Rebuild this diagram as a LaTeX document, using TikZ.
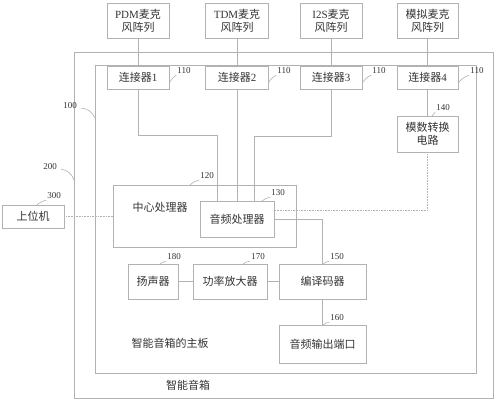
\documentclass[tikz,border=0pt]{standalone}
\usepackage{fontspec}
\setmainfont{Liberation Serif}
\newfontfamily\cjk{Noto Sans CJK SC}
\usetikzlibrary{positioning,calc}

\tikzset{
    box/.style={draw=gray!60, line width=0.6pt, text=black!80, font=\cjk\fontsize{11}{13}\selectfont, align=center, inner sep=0pt},
    wire/.style={draw=gray!60, line width=0.6pt},
    num/.style={text=black!80, font=\fontsize{9}{10}\selectfont, inner sep=1pt},
    tick/.style={draw=gray!70, line width=0.5pt}
}

\begin{document}
\begin{tikzpicture}[x=1pt, y=-1pt]
    \useasboundingbox (0,0) rectangle (496,400);

    % housing and main board
    \draw[wire] (74,52) rectangle (493,398);
    \draw[wire] (95,65) rectangle (476,373);
    \node[box, draw=none] (lblspk) at (188,385) {智能音箱};
    \node[box, draw=none] (lblbrd) at (170,343) {智能音箱的主板};

    % microphone arrays
    \node[box, minimum width=62pt, minimum height=35pt] (pdm) at (138,20.5) {{\rmfamily PDM}麦克\\风阵列};
    \node[box, minimum width=63pt, minimum height=35pt] (tdm) at (237,20.5) {{\rmfamily TDM}麦克\\风阵列};
    \node[box, minimum width=62pt, minimum height=35pt] (i2s) at (331,20.5) {{\rmfamily I2S}麦克\\风阵列};
    \node[box, minimum width=61pt, minimum height=35pt] (ana) at (427.5,20.5) {模拟麦克\\风阵列};

    % connectors
    \node[box, minimum width=62pt, minimum height=23pt] (con1) at (138,77.5) {连接器{\rmfamily 1}};
    \node[box, minimum width=63pt, minimum height=23pt] (con2) at (237,77.5) {连接器{\rmfamily 2}};
    \node[box, minimum width=62pt, minimum height=23pt] (con3) at (331,77.5) {连接器{\rmfamily 3}};
    \node[box, minimum width=61pt, minimum height=23pt] (con4) at (427.5,77.5) {连接器{\rmfamily 4}};
    \node[box, minimum width=61pt, minimum height=36pt] (adc) at (427.5,134) {模数转换\\电路};

    % processors
    \node[box, minimum width=62pt, minimum height=23pt] (host) at (33,216.5) {上位机};
    \node[box, minimum width=183pt, minimum height=62pt] (cpu) at (204.5,216) {};
    \node[box, draw=none] (cputxt) at (160,207) {中心处理器};
    \node[box, minimum width=74pt, minimum height=36pt] (aud) at (237,219) {音频处理器};

    % output chain
    \node[box, minimum width=50pt, minimum height=35pt] (spk) at (153,281.5) {扬声器};
    \node[box, minimum width=74pt, minimum height=35pt] (amp) at (230,281.5) {功率放大器};
    \node[box, minimum width=87pt, minimum height=35pt] (codec) at (322.5,281.5) {编译码器};
    \node[box, minimum width=87pt, minimum height=38pt] (out) at (322.5,344) {音频输出端口};

    % wiring
    \coordinate (j1) at (217,135);
    \coordinate (j3) at (254,136);
    \coordinate (j4) at (427.5,210);
    \draw[wire] (pdm) -- (con1);
    \draw[wire] (tdm) -- (con2);
    \draw[wire] (i2s) -- (con3);
    \draw[wire] (ana) -- (con4);
    \draw[wire] (con4) -- (adc);
    \draw[wire] (con1.south) |- (j1) -- (j1 |- aud.north);
    \draw[wire] (con2.south) -- (aud.north);
    \draw[wire] (con3.south) |- (j3) -- (j3 |- aud.north);
    \draw[wire, densely dotted] (adc.south) -- (j4) -- (j4 -| aud.east);
    \draw[wire] (aud.east) -| (codec.north);
    \draw[wire, densely dotted] (host.east) -- (host.east -| cpu.west);
    \draw[wire] (spk) -- (amp);
    \draw[wire] (amp) -- (codec);
    \draw[wire] (codec) -- (out);

    % reference numerals
    \node[num] (n110a) at (184,71) {110};
    \draw[tick] (170,82) to[bend left=15] (n110a.south west);
    \node[num] (n110b) at (284,71) {110};
    \draw[tick] (269,82) to[bend left=15] (n110b.south west);
    \node[num] (n110c) at (379,71) {110};
    \draw[tick] (363,82) to[bend left=15] (n110c.south west);
    \node[num] (n110d) at (477,71) {110};
    \draw[tick] (459,82) to[bend left=15] (n110d.south west);
    \node[num] (n140) at (443,108) {140};
    \draw[tick] (432,116) to[bend left=15] (n140.south west);
    \node[num] (n120) at (207,176) {120};
    \draw[tick] (190,185) to[bend left=15] (n120.south west);
    \node[num] (n130) at (278,193) {130};
    \draw[tick] (262,201) to[bend left=15] (n130.south west);
    \node[num] (n300) at (54,196) {300};
    \draw[tick] (37,205) to[bend left=15] (n300.south west);
    \node[num] (n180) at (174,257) {180};
    \draw[tick] (160,264) to[bend left=15] (n180.south west);
    \node[num] (n170) at (258,257) {170};
    \draw[tick] (243,264) to[bend left=15] (n170.south west);
    \node[num] (n150) at (337,257) {150};
    \draw[tick] (323,264) to[bend left=15] (n150.south west);
    \node[num] (n160) at (337,318) {160};
    \draw[tick] (323,325) to[bend left=15] (n160.south west);
    \node[num] (n100) at (70,106) {100};
    \draw[tick] (n100.east) ++(3,2) to[bend left=30] (95,118);
    \node[num] (n200) at (50,167) {200};
    \draw[tick] (n200.east) ++(3,2) to[bend left=30] (74,180);
\end{tikzpicture}
\end{document}
